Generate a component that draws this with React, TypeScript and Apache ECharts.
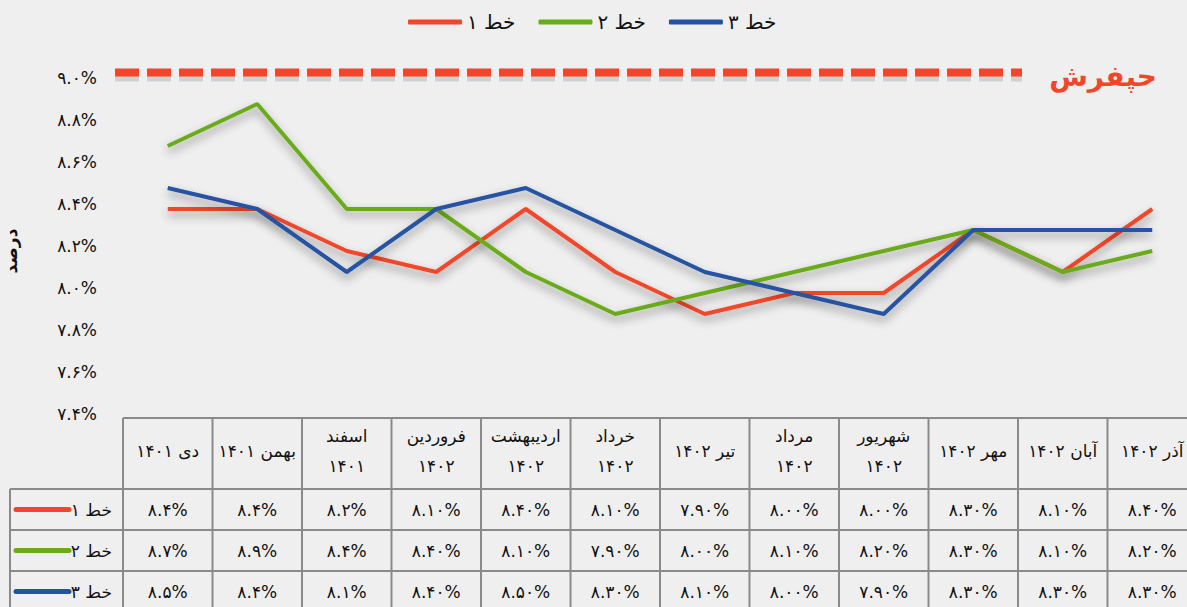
import React, { useEffect, useRef } from 'react';
import * as echarts from 'echarts';

const CATEGORIES = [
  'دی ۱۴۰۱', 'بهمن ۱۴۰۱', 'اسفند\n۱۴۰۱', 'فروردین\n۱۴۰۲', 'اردیبهشت\n۱۴۰۲', 'خرداد\n۱۴۰۲',
  'تیر ۱۴۰۲', 'مرداد\n۱۴۰۲', 'شهریور\n۱۴۰۲', 'مهر ۱۴۰۲', 'آبان ۱۴۰۲', 'آذر ۱۴۰۲',
];
const SERIES_NAMES = ['خط ۱', 'خط ۲', 'خط ۳'];
const LINE1 = [8.4, 8.4, 8.2, 8.1, 8.4, 8.1, 7.9, 8.0, 8.0, 8.3, 8.1, 8.4];
const LINE2 = [8.7, 8.9, 8.4, 8.4, 8.1, 7.9, 8.0, 8.1, 8.2, 8.3, 8.1, 8.2];
const LINE3 = [8.5, 8.4, 8.1, 8.4, 8.5, 8.3, 8.1, 8.0, 7.9, 8.3, 8.3, 8.3];
const TABLE_DECIMALS = [1, 1, 1, 2, 2, 2, 2, 2, 2, 2, 2, 2];
const Y_MIN = 7.4;
const Y_MAX = 9.0;
const Y_STEP = 0.2;
const THRESHOLD = 9.05;
const THRESHOLD_LABEL = 'حپفرش';
const Y_NAME = 'درصد';

const COLORS = ['#f1462b', '#6aab1a', '#2553a2'];
const FONT = 'DejaVu Sans';

const fa = (s: string) => s.replace(/[0-9]/g, (d) => '۰۱۲۳۴۵۶۷۸۹'[+d]);

export default function App() {
  const ref = useRef<HTMLDivElement>(null);
  useEffect(() => {
    if (!ref.current) return;
    const chart = echarts.init(ref.current, undefined, { renderer: 'svg' });
    const seriesData = [LINE1, LINE2, LINE3];
    chart.setOption({
      animation: false,
      backgroundColor: '#efefef',
      textStyle: { fontFamily: FONT },
      legend: {
        top: 7,
        left: 403,
        itemGap: 23,
        itemWidth: 54,
        itemHeight: 5,
        icon: 'roundRect',
        textStyle: { fontSize: 20, color: '#111', fontFamily: FONT },
        data: SERIES_NAMES,
      },
      grid: { left: 123, top: 83, width: 12 * 89.5, height: 336, outerBoundsMode: 'none', containLabel: false },
      xAxis: {
        type: 'category',
        data: CATEGORIES,
        boundaryGap: true,
        axisLine: { show: false },
        axisTick: { show: false },
        splitLine: { show: false },
        axisLabel: {
          interval: 0,
          margin: 32,
          verticalAlign: 'middle',
          lineHeight: 30,
          fontSize: 17,
          color: '#111',
          fontFamily: FONT,
        },
      },
      yAxis: {
        type: 'value',
        min: Y_MIN,
        max: Y_MAX,
        interval: Y_STEP,
        axisLine: { show: false },
        axisTick: { show: false },
        splitLine: { show: false },
        name: Y_NAME,
        nameLocation: 'middle',
        nameGap: 104,
        nameRotate: 90,
        nameTextStyle: { fontSize: 17, fontWeight: 'bold', color: '#111', fontFamily: FONT },
        axisLabel: {
          margin: 26,
          fontSize: 17,
          color: '#111',
          fontFamily: FONT,
          verticalAlign: 'bottom',
          lineHeight: 10,
          formatter: (v: number) => fa(v.toFixed(1)) + '%',
        },
      },
      series: SERIES_NAMES.map((name, k) => ({
        name,
        type: 'line',
        data: seriesData[k],
        symbol: 'none',
        color: COLORS[k],
        lineStyle: {
          width: 4,
          color: COLORS[k],
          shadowColor: 'rgba(0,0,0,0.4)',
          shadowBlur: 10,
          shadowOffsetY: 5,
        },
      })),
    });

    const xs = CATEGORIES.map((_, i) => chart.convertToPixel({ xAxisIndex: 0 }, i) as number);
    const colW = xs[1] - xs[0];
    const left = xs[0] - colW / 2;
    const tableTop = (chart.convertToPixel({ yAxisIndex: 0 }, Y_MIN) as number) - 1;
    const headerBottom = tableTop + 71;
    const rowH = 41;
    const lineColor = '#8a8a8a';
    const els: any[] = [];
    els.push({ type: 'line', shape: { x1: left, y1: tableTop, x2: 1200, y2: tableTop }, style: { stroke: lineColor, lineWidth: 2 } });
    for (let r = 0; r <= 3; r++) {
      const y = headerBottom + r * rowH;
      els.push({ type: 'line', shape: { x1: 10, y1: y, x2: 1200, y2: y }, style: { stroke: lineColor, lineWidth: 2 } });
    }
    for (let i = 0; i <= CATEGORIES.length; i++) {
      const x = left + i * colW;
      els.push({ type: 'line', shape: { x1: x, y1: tableTop, x2: x, y2: 620 }, style: { stroke: lineColor, lineWidth: 2 } });
    }
    els.push({ type: 'line', shape: { x1: 10, y1: headerBottom, x2: 10, y2: 620 }, style: { stroke: lineColor, lineWidth: 2 } });
    seriesData.forEach((vals, r) => {
      const cy = headerBottom + r * rowH + rowH / 2;
      els.push({ type: 'line', shape: { x1: 16, y1: cy, x2: 69, y2: cy }, style: { stroke: COLORS[r], lineWidth: 5, lineCap: 'round' } });
      els.push({
        type: 'text', x: 112, y: cy,
        style: { text: SERIES_NAMES[r], fontSize: 17, fontFamily: FONT, fill: '#111', align: 'right', verticalAlign: 'middle' },
      });
      vals.forEach((v, i) => {
        els.push({
          type: 'text', x: xs[i], y: cy,
          style: { text: fa(v.toFixed(TABLE_DECIMALS[i])) + '%', fontSize: 17, fontFamily: FONT, fill: '#111', align: 'center', verticalAlign: 'middle' },
        });
      });
    });
    const ty = chart.convertToPixel({ yAxisIndex: 0 }, THRESHOLD) as number;
    els.push({
      type: 'line',
      shape: { x1: 115, y1: ty + 4, x2: 1022, y2: ty + 4 },
      style: { stroke: 'rgba(0,0,0,0.13)', lineWidth: 10, lineDash: [24, 8] },
    });
    els.push({
      type: 'line',
      shape: { x1: 115, y1: ty, x2: 1022, y2: ty },
      style: { stroke: '#f3452a', lineWidth: 8, lineDash: [24, 8] },
    });
    els.push({
      type: 'text', x: 1157, y: ty + 4,
      style: { text: THRESHOLD_LABEL, fontSize: 28, fontWeight: 'bold', fontFamily: FONT, fill: '#f3452a', align: 'right', verticalAlign: 'middle' },
    });
    chart.setOption({ graphic: { elements: els } });

    return () => chart.dispose();
  }, []);
  return <div ref={ref} style={{ position: 'absolute', left: 0, top: 0, width: 1187, height: 607 }} />;
}
